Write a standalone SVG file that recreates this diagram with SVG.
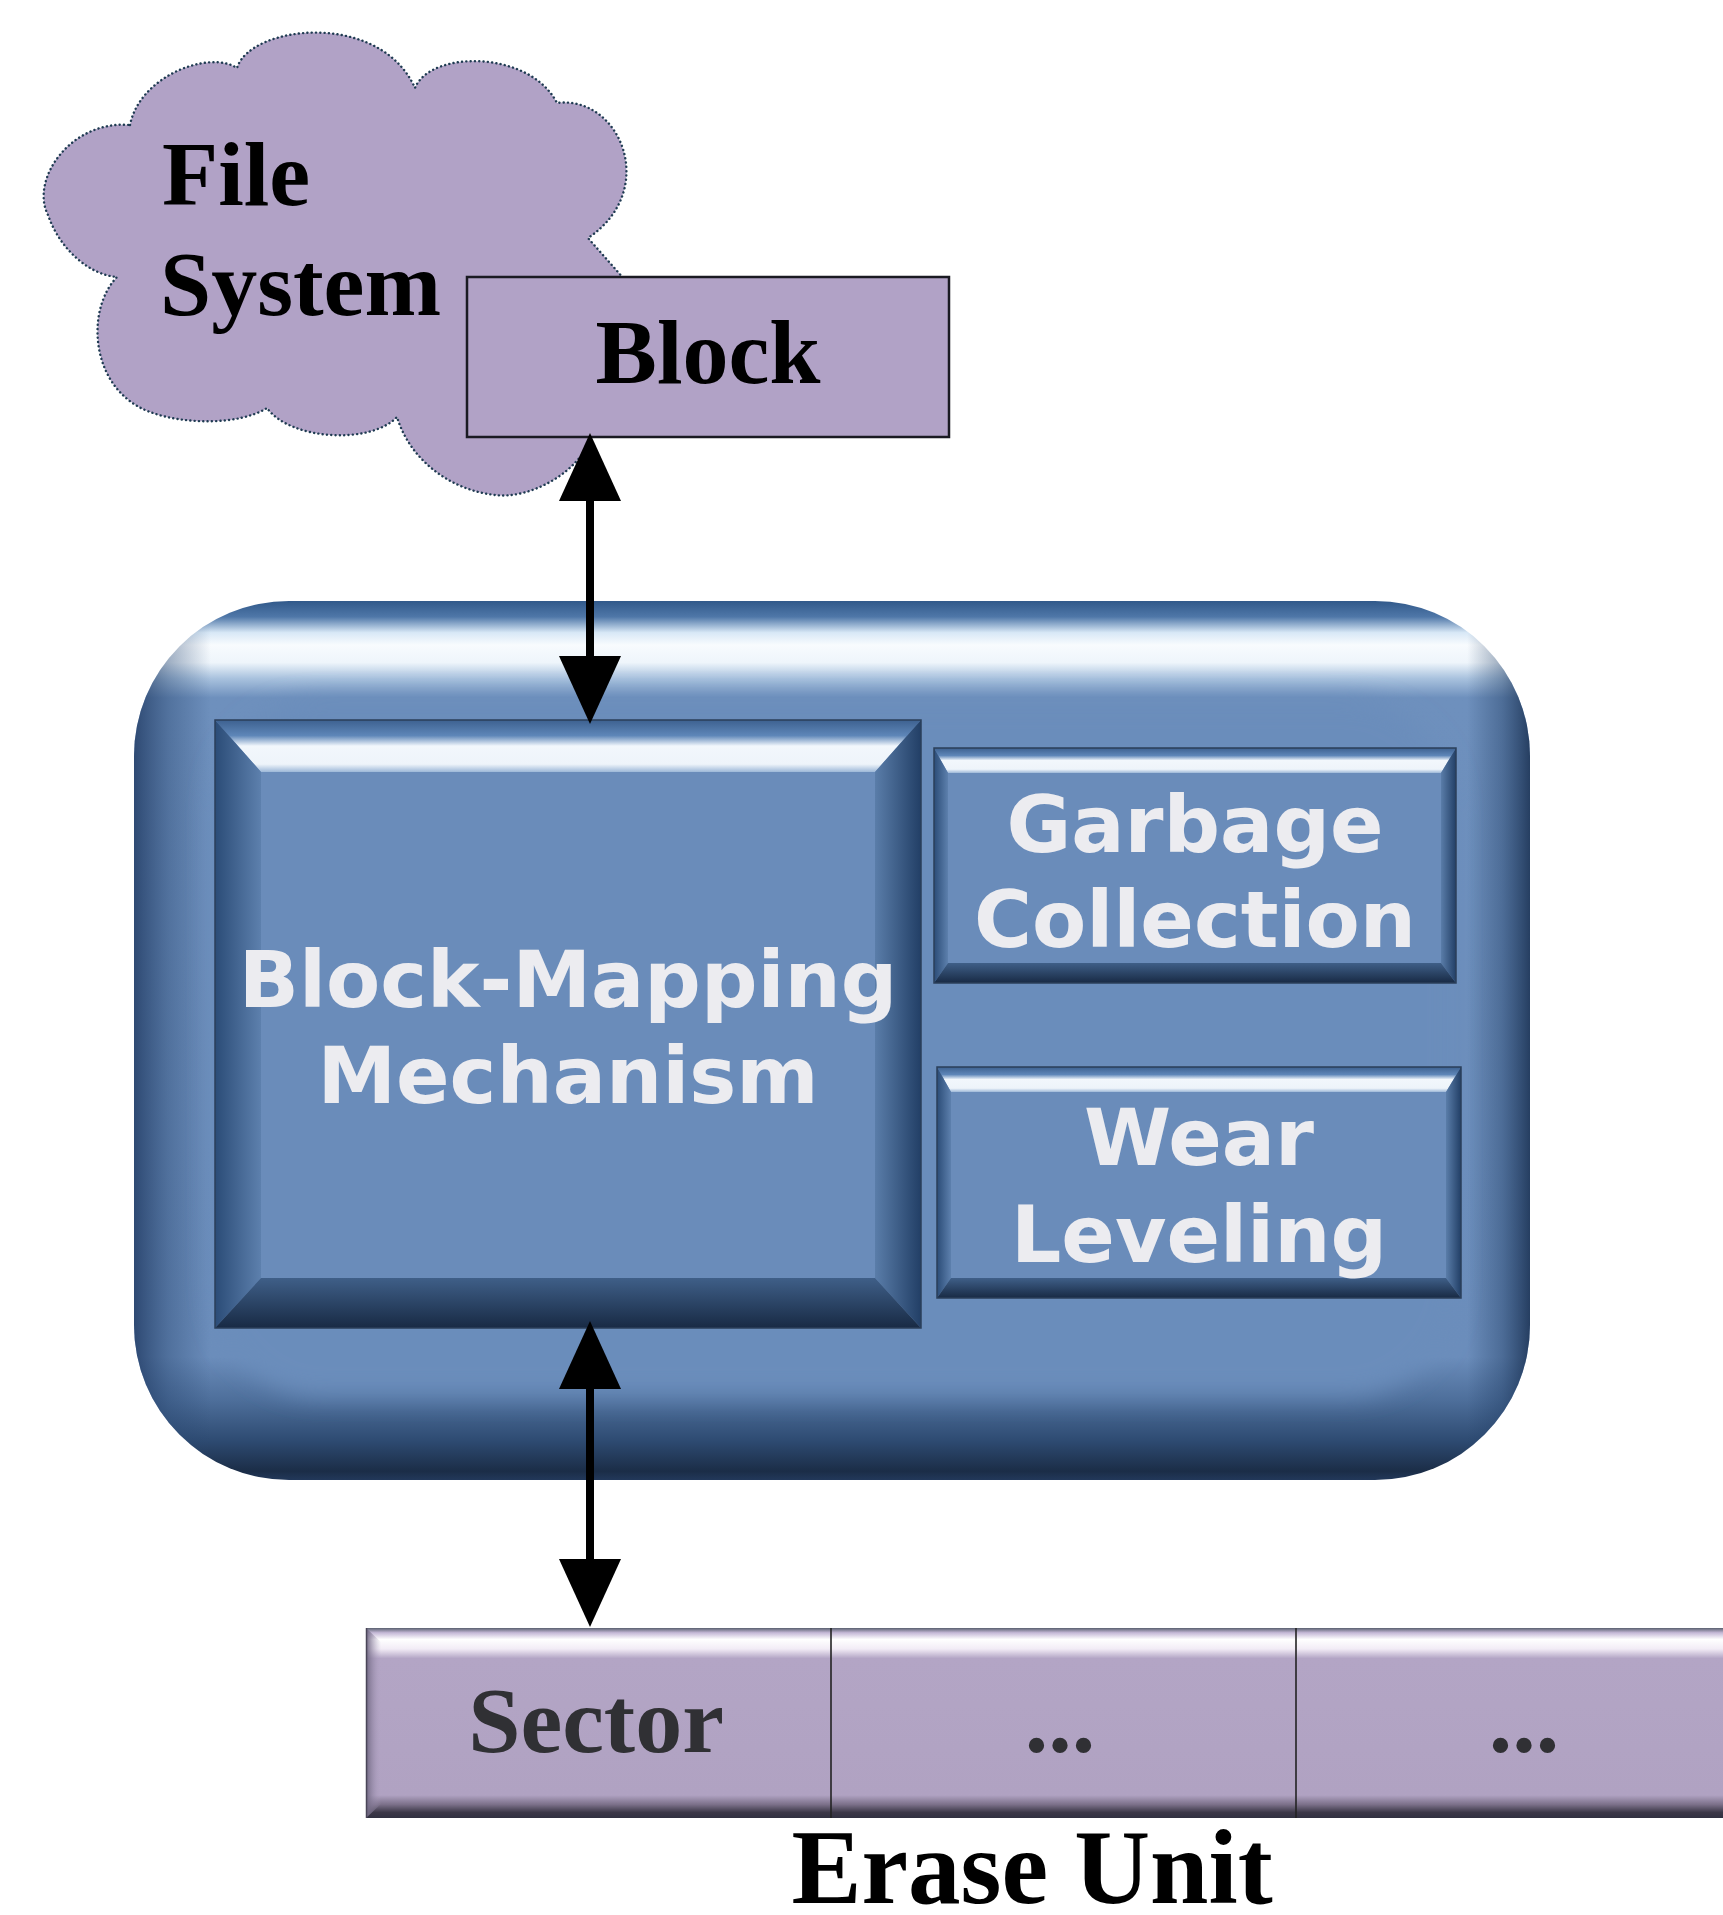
<svg xmlns="http://www.w3.org/2000/svg" width="1723" height="1915" viewBox="0 0 1723 1915">
  <style>
    .serif { font-family: "Liberation Serif", "Times New Roman", serif; font-weight: bold; }
    .sans { font-family: "DejaVu Sans", Verdana, sans-serif; font-weight: bold; fill: #ececf0; font-size: 79px; text-anchor: middle; }
    .lav { fill: #b1a2c6; }
    .conn { stroke: #000; stroke-width: 8; fill: none; }
    .bev-edge { fill: none; stroke: #2b3f5a; stroke-width: 1.5; }
  </style>
  <defs>
    <!-- bidirectional arrowhead, reference point at the triangle base -->
    <marker id="ah" markerUnits="userSpaceOnUse" markerWidth="70" markerHeight="64" viewBox="0 -32 70 64" refX="1" refY="0" orient="auto-start-reverse">
      <path d="M0,-31 L68,0 L0,31 Z" fill="#000"/>
    </marker>

    <!-- rounded controller body shading -->
    <linearGradient id="bodyV" x1="0" y1="0" x2="0" y2="1">
      <stop offset="0" stop-color="#31598a"/>
      <stop offset="0.018" stop-color="#4f77a8"/>
      <stop offset="0.036" stop-color="#d8e8f6"/>
      <stop offset="0.05" stop-color="#f8fbfe"/>
      <stop offset="0.07" stop-color="#eef5fb"/>
      <stop offset="0.088" stop-color="#a9c2de"/>
      <stop offset="0.11" stop-color="#6e90bd"/>
      <stop offset="0.86" stop-color="#6b8dbb"/>
      <stop offset="0.91" stop-color="#4d6e9a"/>
      <stop offset="0.955" stop-color="#2e4b72"/>
      <stop offset="0.99" stop-color="#1b2d47"/>
      <stop offset="1" stop-color="#22385a"/>
    </linearGradient>
    <linearGradient id="bodyH" x1="0" y1="0" x2="1" y2="0">
      <stop offset="0" stop-color="#19325a" stop-opacity="0.75"/>
      <stop offset="0.025" stop-color="#284670" stop-opacity="0.4"/>
      <stop offset="0.055" stop-color="#284670" stop-opacity="0"/>
      <stop offset="0.955" stop-color="#1e3a60" stop-opacity="0"/>
      <stop offset="0.98" stop-color="#1e3a60" stop-opacity="0.4"/>
      <stop offset="1" stop-color="#142a4a" stop-opacity="0.8"/>
    </linearGradient>
    <filter id="soft" x="-10%" y="-10%" width="120%" height="120%">
      <feGaussianBlur stdDeviation="12"/>
    </filter>
    <clipPath id="bodyClip">
      <rect x="134" y="601" width="1396" height="879" rx="155" ry="155"/>
    </clipPath>

    <!-- bevelled panel faces -->
    <linearGradient id="bevTop" x1="0" y1="0" x2="0" y2="1">
      <stop offset="0" stop-color="#3d6190"/>
      <stop offset="0.3" stop-color="#5e86b8"/>
      <stop offset="0.5" stop-color="#f2f7fc"/>
      <stop offset="0.85" stop-color="#eef4fa"/>
      <stop offset="1" stop-color="#9db8d8"/>
    </linearGradient>
    <linearGradient id="bevLeft" x1="0" y1="0" x2="1" y2="0">
      <stop offset="0" stop-color="#2b4c77"/>
      <stop offset="1" stop-color="#5d80ad"/>
    </linearGradient>
    <linearGradient id="bevRight" x1="0" y1="0" x2="1" y2="0">
      <stop offset="0" stop-color="#5a7da9"/>
      <stop offset="1" stop-color="#223f66"/>
    </linearGradient>
    <linearGradient id="bevBottom" x1="0" y1="0" x2="0" y2="1">
      <stop offset="0" stop-color="#3f5f88"/>
      <stop offset="1" stop-color="#182a44"/>
    </linearGradient>

    <!-- erase unit strip -->
    <linearGradient id="stripV" x1="0" y1="0" x2="0" y2="1">
      <stop offset="0" stop-color="#5a6070"/>
      <stop offset="0.025" stop-color="#c4b8d6"/>
      <stop offset="0.06" stop-color="#ffffff"/>
      <stop offset="0.11" stop-color="#f2ecf6"/>
      <stop offset="0.16" stop-color="#b3a5c5"/>
      <stop offset="0.88" stop-color="#b0a2c2"/>
      <stop offset="0.93" stop-color="#7a6f88"/>
      <stop offset="0.97" stop-color="#3c3848"/>
      <stop offset="1" stop-color="#303040"/>
    </linearGradient>
    <linearGradient id="stripL" x1="0" y1="0" x2="1" y2="0">
      <stop offset="0" stop-color="#6e6680"/>
      <stop offset="1" stop-color="#b0a2c2" stop-opacity="0"/>
    </linearGradient>
  </defs>

  <rect x="0" y="0" width="1723" height="1915" fill="#ffffff"/>

  <!-- File System cloud -->
  <g id="file-system">
    <path class="lav" stroke="#1f3b52" stroke-width="2.4" stroke-dasharray="0.1 4.2" stroke-linecap="round"
      d="M130,125 C140,75 210,50 237,68 C250,25 380,10 415,88 C430,50 530,50 557,103 C620,95 660,190 588,238 L625,280 L640,300 L640,430 L592,432 C585,470 530,500 495,495 C450,490 410,460 397,417 C370,445 290,440 267,408 C240,425 185,425 150,412 C90,390 85,310 117,277 C90,275 60,250 48,215 C30,180 70,120 130,125 Z"/>
    <text class="serif" x="162" y="205" font-size="92" fill="#000">File</text>
    <text class="serif" x="160" y="315" font-size="92" fill="#000">System</text>
  </g>

  <!-- Block -->
  <g id="block">
    <rect class="lav" x="467" y="277" width="482" height="160" stroke="#1a1a22" stroke-width="2.5"/>
    <text class="serif" x="708" y="383" font-size="92" fill="#000" text-anchor="middle">Block</text>
  </g>

  <!-- Controller body -->
  <g id="controller">
    <rect x="134" y="601" width="1396" height="879" rx="155" ry="155" fill="url(#bodyV)"/>
    <rect x="134" y="601" width="1396" height="879" rx="155" ry="155" fill="url(#bodyH)"/>
    <g clip-path="url(#bodyClip)">
      <rect x="212" y="700" width="1244" height="696" rx="110" ry="110" fill="#6b8dbb" filter="url(#soft)"/>
    </g>
  </g>

  <!-- Block-Mapping Mechanism -->
  <g id="block-mapping">
    <rect x="215" y="720" width="706" height="608" fill="#6a8cba"/>
    <polygon points="215,720 921,720 875,772 261,772" fill="url(#bevTop)"/>
    <polygon points="215,720 261,772 261,1278 215,1328" fill="url(#bevLeft)"/>
    <polygon points="921,720 921,1328 875,1278 875,772" fill="url(#bevRight)"/>
    <polygon points="215,1328 261,1278 875,1278 921,1328" fill="url(#bevBottom)"/>
    <rect class="bev-edge" x="215" y="720" width="706" height="608"/>
    <text class="sans" x="568" y="1007">Block-Mapping</text>
    <text class="sans" x="568" y="1103">Mechanism</text>
  </g>

  <!-- Garbage Collection -->
  <g id="garbage-collection">
    <rect x="934" y="748" width="522" height="235" fill="#6a8cba"/>
    <polygon points="934,748 1456,748 1441,773 948,773" fill="url(#bevTop)"/>
    <polygon points="934,748 948,773 948,963 934,983" fill="url(#bevLeft)"/>
    <polygon points="1456,748 1456,983 1441,963 1441,773" fill="url(#bevRight)"/>
    <polygon points="934,983 948,963 1441,963 1456,983" fill="url(#bevBottom)"/>
    <rect class="bev-edge" x="934" y="748" width="522" height="235"/>
    <text class="sans" x="1195" y="852">Garbage</text>
    <text class="sans" x="1195" y="947">Collection</text>
  </g>

  <!-- Wear Leveling -->
  <g id="wear-leveling">
    <rect x="937" y="1067" width="524" height="231" fill="#6a8cba"/>
    <polygon points="937,1067 1461,1067 1446,1092 951,1092" fill="url(#bevTop)"/>
    <polygon points="937,1067 951,1092 951,1278 937,1298" fill="url(#bevLeft)"/>
    <polygon points="1461,1067 1461,1298 1446,1278 1446,1092" fill="url(#bevRight)"/>
    <polygon points="937,1298 951,1278 1446,1278 1461,1298" fill="url(#bevBottom)"/>
    <rect class="bev-edge" x="937" y="1067" width="524" height="231"/>
    <text class="sans" x="1199" y="1165">Wear</text>
    <text class="sans" x="1199" y="1262">Leveling</text>
  </g>

  <!-- Erase unit strip of sectors -->
  <g id="erase-unit">
    <rect x="366" y="1628" width="1380" height="190" fill="#b0a2c2"/>
    <rect x="366" y="1628" width="1380" height="190" fill="url(#stripV)"/>
    <polygon points="366,1628 381,1642 381,1804 366,1818" fill="url(#stripL)"/>
    <line x1="366.5" y1="1628" x2="366.5" y2="1818" stroke="#4a4658" stroke-width="1.5"/>
    <line x1="831" y1="1628" x2="831" y2="1818" stroke="#222" stroke-width="1.6"/>
    <line x1="1296" y1="1628" x2="1296" y2="1818" stroke="#222" stroke-width="1.6"/>
    <text class="serif" x="596" y="1752" font-size="94" fill="#303034" text-anchor="middle">Sector</text>
    <text class="serif" x="1060" y="1752" font-size="94" fill="#303034" text-anchor="middle">...</text>
    <text class="serif" x="1524" y="1752" font-size="94" fill="#303034" text-anchor="middle">...</text>
    <text class="serif" x="1032" y="1903" font-size="105" fill="#000" text-anchor="middle">Erase Unit</text>
  </g>

  <!-- Connectors -->
  <g id="connectors">
    <line class="conn" x1="590" y1="500" x2="590" y2="657" marker-start="url(#ah)" marker-end="url(#ah)"/>
    <line class="conn" x1="590" y1="1388" x2="590" y2="1560" marker-start="url(#ah)" marker-end="url(#ah)"/>
  </g>
</svg>
